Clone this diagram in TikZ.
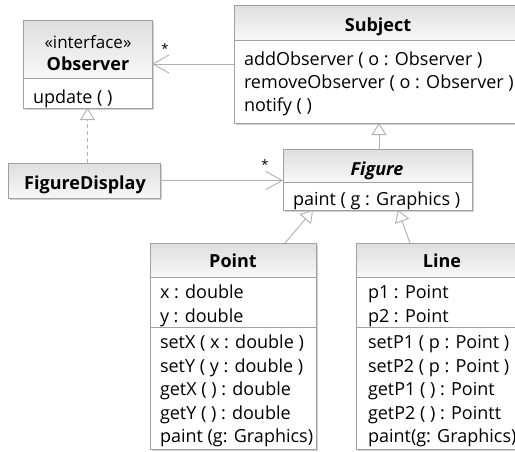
\documentclass[tikz,border=0pt]{standalone}
\usepackage{fontspec}
\setmainfont{Open Sans}
\usetikzlibrary{arrows.meta,shadows,calc}

\definecolor{boxline}{HTML}{A0A0A0}
\definecolor{linkline}{HTML}{B0B0B0}
\definecolor{hdrtop}{HTML}{DEDEDE}
\definecolor{hdrbot}{HTML}{F8F8F8}

\tikzset{
  classbox/.style={rectangle, draw=boxline, line width=0.9pt, fill=white,
    inner sep=0pt, outer sep=0pt, anchor=north west,
    drop shadow={shadow xshift=2pt, shadow yshift=-2pt, fill=black!30, opacity=0.6}},
  hdr/.style={top color=hdrtop, bottom color=hdrbot},
  frame/.style={draw=boxline, line width=0.9pt},
  member/.style={inner sep=0pt, outer sep=0pt, anchor=base west,
    font=\fontsize{18pt}{22pt}\selectfont},
  classname/.style={inner sep=0pt, outer sep=0pt, anchor=base,
    font=\fontsize{18pt}{22pt}\selectfont\bfseries},
  stereo/.style={inner sep=0pt, outer sep=0pt, anchor=base,
    font=\fontsize{17pt}{21pt}\selectfont},
  mult/.style={inner sep=0pt, outer sep=0pt, font=\fontsize{13pt}{15pt}\selectfont},
  assoc/.style={draw=linkline, line width=0.9pt,
    -{Straight Barb[length=16pt, width=18pt, line width=0.9pt]}},
  generalize/.style={draw=linkline, line width=0.9pt,
    -{Triangle[length=12pt, width=15pt, fill=white, line width=0.9pt]}},
  realize/.style={generalize, dash pattern=on 4pt off 3pt},
}

\begin{document}
\begin{tikzpicture}[x=1pt, y=-1pt]
\useasboundingbox (0,0) rectangle (515,451);
% the two right-hand classes run past the right margin and are cut there
\clip (0,0) rectangle (515,451);

% ---------- Observer (interface) ----------
\node[classbox, minimum width=129pt, minimum height=88pt] (obs) at (23,20) {};
\shade[hdr] (obs.north west) rectangle ($(obs.north east)+(0,58)$);
\draw[frame] (obs.north west) rectangle (obs.south east);
\draw[frame] ($(obs.north west)+(0,58)$) -- ($(obs.north east)+(0,58)$);
\node[stereo] (obs-st) at (88,48) {«interface»};
\node[classname] (obs-nm) at (88,70) {Observer};
\node[member] (obs-op1) at (33,103) {update ( )};

% ---------- Subject ----------
\node[classbox, minimum width=306pt, minimum height=118pt] (subj) at (234,5) {};
\shade[hdr] (subj.north west) rectangle ($(subj.north east)+(0,35)$);
\draw[frame] (subj.north west) rectangle (subj.south east);
\draw[frame] ($(subj.north west)+(0,35)$) -- ($(subj.north east)+(0,35)$);
\node[classname] (subj-nm) at (378,31) {Subject};
\node[member] (subj-op1) at (244,65) {addObserver ( o : Observer )};
\node[member] (subj-op2) at (244,88) {removeObserver ( o : Observer )};
\node[member] (subj-op3) at (244,111) {notify ( )};

% ---------- FigureDisplay ----------
\node[classbox, minimum width=152pt, minimum height=35pt] (fd) at (8,163) {};
\shade[hdr] (fd.north west) rectangle (fd.south east);
\draw[frame] (fd.north west) rectangle (fd.south east);
\node[classname] (fd-nm) at (85,189) {FigureDisplay};

% ---------- Figure (abstract) ----------
\node[classbox, minimum width=189pt, minimum height=61pt] (fig) at (283,149) {};
\shade[hdr] (fig.north west) rectangle ($(fig.north east)+(0,33)$);
\draw[frame] (fig.north west) rectangle (fig.south east);
\draw[frame] ($(fig.north west)+(0,33)$) -- ($(fig.north east)+(0,33)$);
\node[classname, font=\fontsize{18pt}{22pt}\selectfont\bfseries\itshape] (fig-nm) at (377,175) {Figure};
\node[member] (fig-op1) at (293,205) {paint ( g : Graphics )};

% ---------- Point ----------
\node[classbox, minimum width=166pt, minimum height=206pt] (pt) at (150,243) {};
\shade[hdr] (pt.north west) rectangle ($(pt.north east)+(0,34)$);
\draw[frame] (pt.north west) rectangle (pt.south east);
\draw[frame] ($(pt.north west)+(0,34)$) -- ($(pt.north east)+(0,34)$);
\draw[frame] ($(pt.north west)+(0,84)$) -- ($(pt.north east)+(0,84)$);
\node[classname] (pt-nm) at (233,267) {Point};
\node[member] (pt-at1) at (160,298) {x : double};
\node[member] (pt-at2) at (160,322) {y : double};
\node[member] (pt-op1) at (160,348) {setX ( x : double )};
\node[member] (pt-op2) at (160,372) {setY ( y : double )};
\node[member] (pt-op3) at (160,395) {getX ( ) : double};
\node[member] (pt-op4) at (160,419) {getY ( ) : double};
\node[member] (pt-op5) at (160,442) {paint (g: Graphics)};

% ---------- Line ----------
\node[classbox, minimum width=184pt, minimum height=206pt] (ln) at (356,243) {};
\shade[hdr] (ln.north west) rectangle ($(ln.north east)+(0,34)$);
\draw[frame] (ln.north west) rectangle (ln.south east);
\draw[frame] ($(ln.north west)+(0,34)$) -- ($(ln.north east)+(0,34)$);
\draw[frame] ($(ln.north west)+(0,84)$) -- ($(ln.north east)+(0,84)$);
\node[classname] (ln-nm) at (442,267) {Line};
\node[member] (ln-at1) at (368,298) {p1 : Point};
\node[member] (ln-at2) at (368,322) {p2 : Point};
\node[member] (ln-op1) at (368,348) {setP1 ( p : Point )};
\node[member] (ln-op2) at (368,372) {setP2 ( p : Point )};
\node[member] (ln-op3) at (368,395) {getP1 ( ) : Point};
\node[member] (ln-op4) at (368,419) {getP2 ( ) : Pointt};
\node[member] (ln-op5) at (368,442) {paint(g: Graphics)};

% ---------- relations ----------
% Subject observes many Observers
\draw[assoc] (subj.west |- obs.east) -- (obs.east);
\node[mult] (m-obs) at (165,49) {*};
% FigureDisplay realizes Observer
\draw[realize] (obs.south |- fd.north) -- (obs.south);
% FigureDisplay holds many Figures
\draw[assoc] (fd.east) -- (fd.east -| fig.west);
\node[mult] (m-fig) at (265,165) {*};
% Figure extends Subject
\coordinate (subj-foot) at (379,123);
\draw[generalize] (fig.north -| subj-foot) -- (subj-foot);
% Point and Line extend Figure
\coordinate (pt-up) at ($(pt.north east)+(-31,0)$);
\coordinate (fig-l) at ($(fig.south west)+(30,0)$);
\draw[generalize] (pt-up) -- (fig-l);
\coordinate (ln-up) at ($(ln.north west)+(54,0)$);
\coordinate (fig-r) at ($(fig.south west)+(115,0)$);
\draw[generalize] (ln-up) -- (fig-r);
\end{tikzpicture}
\end{document}
